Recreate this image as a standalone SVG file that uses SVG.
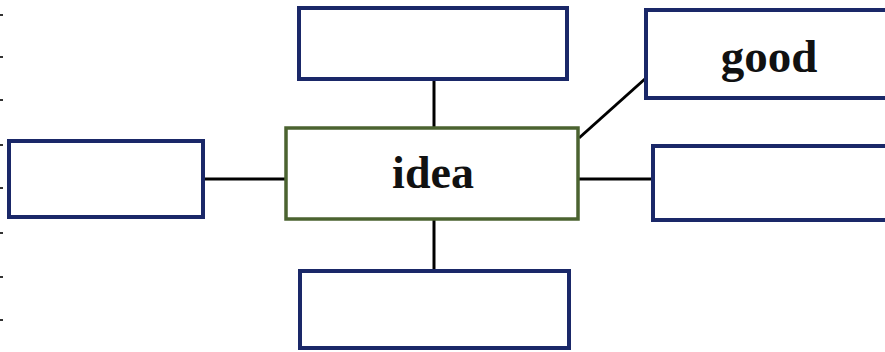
<svg xmlns="http://www.w3.org/2000/svg" width="885" height="352" viewBox="0 0 885 352">
<style>
.box{fill:#fff;stroke:#1a2868;stroke-width:4}
.center{fill:#fff;stroke:#4b6330;stroke-width:3.5}
.conn{stroke:#000;stroke-width:3;fill:none}
.lbl{font-family:"Liberation Serif",serif;font-weight:bold;fill:#111;text-anchor:middle}
.tick{stroke:#333;stroke-width:2}
</style>
<rect width="885" height="352" fill="#fff"/>
<g id="ticks">
<line class="tick" x1="0" y1="15" x2="3" y2="15"/>
<line class="tick" x1="0" y1="57" x2="3" y2="57"/>
<line class="tick" x1="0" y1="100" x2="3" y2="100"/>
<line class="tick" x1="0" y1="145" x2="3" y2="145"/>
<line class="tick" x1="0" y1="188" x2="3" y2="188"/>
<line class="tick" x1="0" y1="233" x2="3" y2="233"/>
<line class="tick" x1="0" y1="277" x2="3" y2="277"/>
<line class="tick" x1="0" y1="320" x2="3" y2="320"/>
</g>
<g id="connectors">
<line class="conn" x1="434" y1="79" x2="434" y2="128"/>
<line class="conn" x1="434" y1="219" x2="434" y2="271"/>
<line class="conn" x1="203" y1="179" x2="286" y2="179"/>
<line class="conn" x1="578" y1="179" x2="653" y2="179"/>
<line class="conn" x1="579" y1="138" x2="646" y2="78"/>
</g>
<g id="top"><rect class="box" x="299" y="8" width="268" height="71"/></g>
<g id="bottom"><rect class="box" x="300" y="271" width="269" height="77"/></g>
<g id="left"><rect class="box" x="9" y="141" width="194" height="76"/></g>
<g id="good"><rect class="box" x="646" y="10" width="245" height="88"/><text class="lbl" x="769" y="72" font-size="47">good</text></g>
<g id="right"><rect class="box" x="653" y="146" width="240" height="74"/></g>
<g id="idea"><rect class="center" x="286" y="128" width="292" height="91"/><text class="lbl" x="433" y="188" font-size="46">idea</text></g>
</svg>
